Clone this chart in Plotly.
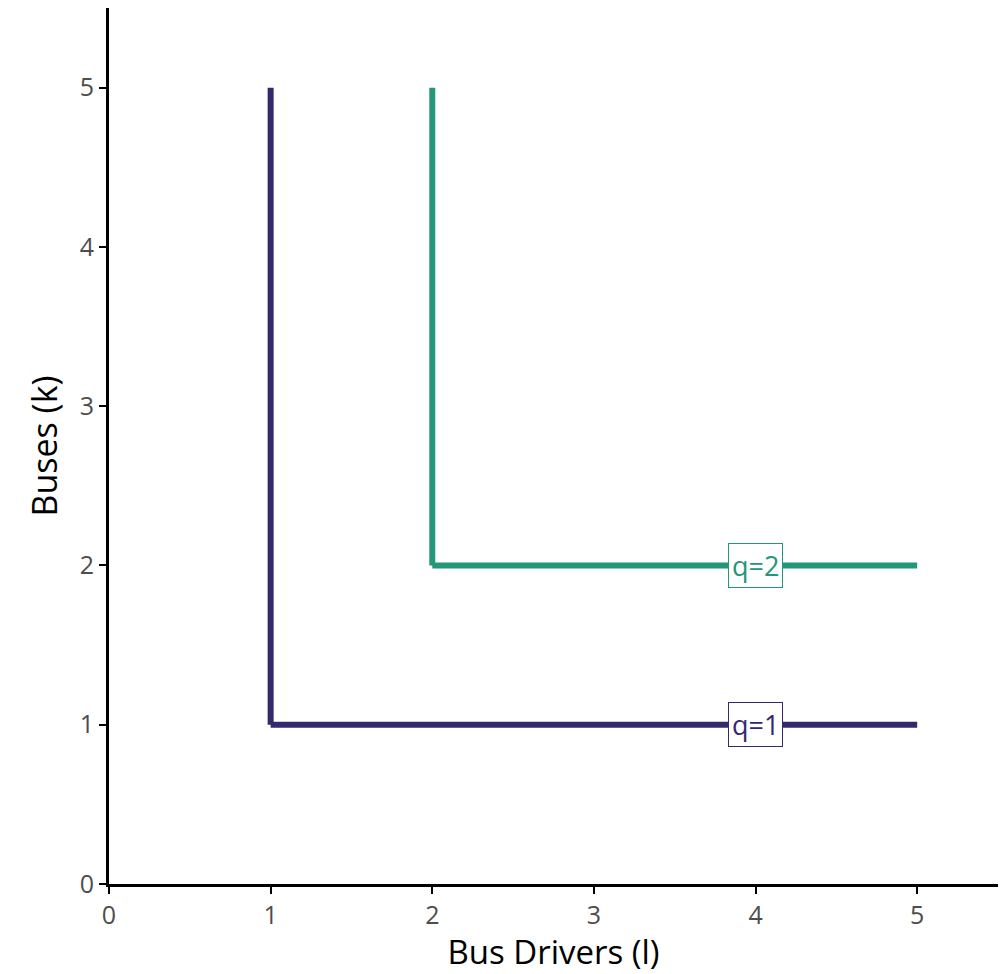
import plotly.graph_objects as go

# Isoquant data (Leontief: q = min(l, k))
quantities = [1, 2]
labels = ["q=1", "q=2"]
colors = ["#34286E", "#24967A"]
x_max = 5
y_max = 5
label_x = 4

font_family = "Open Sans"

fig = go.Figure()
for q, lab, col in zip(quantities, labels, colors):
    # vertical segment and horizontal segment drawn as separate pieces
    xs = [q, q, None, q, x_max]
    ys = [y_max, q, None, q, q]
    fig.add_trace(go.Scatter(x=xs, y=ys, mode="lines",
                             line=dict(color=col, width=6),
                             connectgaps=False, showlegend=False, hoverinfo="skip"))
    fig.add_annotation(x=label_x, y=q, text=lab, showarrow=False,
                       font=dict(color=col, size=27, family=font_family),
                       bgcolor="white", bordercolor=col, borderwidth=1, borderpad=3)

axis_common = dict(range=[0, 5.5], dtick=1, showgrid=False, zeroline=False,
                   showline=True, linecolor="black", linewidth=3,
                   ticks="outside", ticklen=7, tickwidth=2, tickcolor="black",
                   tickfont=dict(size=25, color="#4d4d4d", family=font_family))

fig.update_xaxes(title=dict(text="Bus Drivers (l)", font=dict(size=33, color="black", family=font_family), standoff=10),
                 **axis_common)
fig.update_yaxes(title=dict(text="Buses (k)", font=dict(size=34, color="black", family=font_family), standoff=12),
                 **axis_common)

fig.update_layout(width=1007, height=974, plot_bgcolor="white", paper_bgcolor="white",
                  margin=dict(l=109, r=9, t=8, b=90), font=dict(family=font_family))
fig.write_html("out.html", config={"displayModeBar": False},
               post_script="document.body.style.margin='0';")
